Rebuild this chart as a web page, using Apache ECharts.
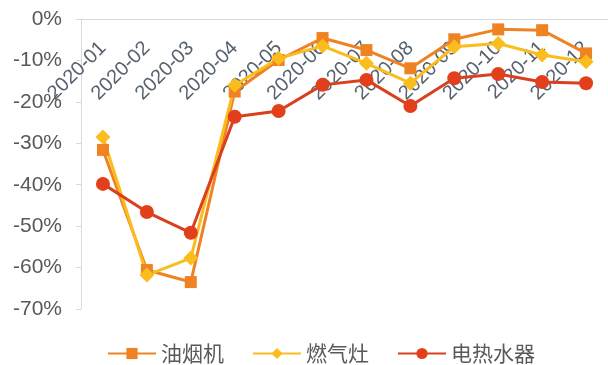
<!DOCTYPE html>
<html>
<head>
    <meta charset="UTF-8">
    <title>chart</title>
    <script src="https://cdn.jsdelivr.net/npm/echarts@6/dist/echarts.min.js"></script>
    <style>
        body { margin: 0; background: #fff; }
        #chart { width: 608px; height: 365px; }
    </style>
</head>
<body>
<div id="chart"></div>
<script>
    // 月份
    var months = ['2020-01', '2020-02', '2020-03', '2020-04', '2020-05', '2020-06',
        '2020-07', '2020-08', '2020-09', '2020-10', '2020-11', '2020-12'];
    // 同比增速(%)
    var youyanji = [-31.6, -60.6, -63.5, -17.5, -9.9, -4.6, -7.5, -11.9, -4.9, -2.5, -2.7, -8.3];
    var ranqizao = [-28.5, -61.8, -57.7, -16.0, -9.5, -6.5, -10.7, -15.5, -6.7, -5.9, -8.7, -10.3];
    var reshuiqi = [-39.8, -46.6, -51.6, -23.6, -22.2, -15.9, -14.7, -21.0, -14.3, -13.3, -15.2, -15.5];

    var chart = echarts.init(document.getElementById('chart'));
    chart.setOption({
        animation: false,
        grid: { left: 81, right: 0, top: 19, bottom: 56 },
        legend: {
            top: 338,
            left: 102,
            itemWidth: 48,
            itemHeight: 14,
            itemGap: 28,
            textStyle: { fontSize: 21, color: '#595959', fontFamily: 'Noto Sans CJK SC' },
            data: ['油烟机', '燃气灶', '电热水器']
        },
        xAxis: {
            type: 'category',
            data: months,
            position: 'top',
            boundaryGap: true,
            axisLine: { lineStyle: { color: '#d9d9d9' } },
            axisTick: { inside: true, length: 5, lineStyle: { color: '#d9d9d9' } },
            axisLabel: {
                inside: true,
                rotate: 45,
                margin: 26,
                fontSize: 20,
                color: '#56626f',
                fontFamily: 'Liberation Sans'
            }
        },
        yAxis: {
            type: 'value',
            min: -70,
            max: 0,
            interval: 10,
            splitLine: { show: false },
            axisLine: { show: true, lineStyle: { color: '#d9d9d9' } },
            axisTick: { show: true, length: 5, lineStyle: { color: '#d9d9d9' } },
            axisLabel: {
                formatter: '{value}%',
                fontSize: 21,
                color: '#595959',
                margin: 19,
                fontFamily: 'Liberation Sans'
            }
        },
        series: [
            {
                name: '油烟机',
                type: 'line',
                data: youyanji,
                symbol: 'rect',
                symbolSize: 12,
                lineStyle: { width: 3, color: '#ef8323' },
                itemStyle: { color: '#ef8323' }
            },
            {
                name: '燃气灶',
                type: 'line',
                data: ranqizao,
                symbol: 'diamond',
                symbolSize: 15,
                lineStyle: { width: 3, color: '#fbbd1e' },
                itemStyle: { color: '#fbbd1e' }
            },
            {
                name: '电热水器',
                type: 'line',
                data: reshuiqi,
                symbol: 'circle',
                symbolSize: 14,
                lineStyle: { width: 3, color: '#d8401f' },
                itemStyle: { color: '#e2401c' }
            }
        ]
    });
</script>
</body>
</html>
